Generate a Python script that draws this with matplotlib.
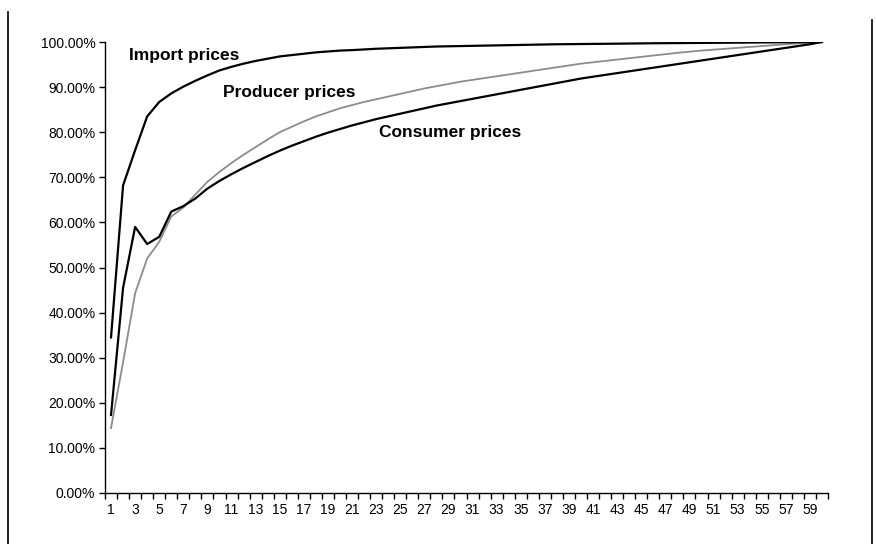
import numpy as np
import matplotlib
matplotlib.use("Agg")
import matplotlib.pyplot as plt
from matplotlib.lines import Line2D
from matplotlib.ticker import FixedLocator, FuncFormatter

plt.rcParams['font.family'] = ['Liberation Sans', 'DejaVu Sans']

# data (share of long-run pass-through, %)
periods = list(range(1, 61))

import_prices = [34.5, 68.2, 76.0, 83.5, 86.7, 88.6, 90.1, 91.4, 92.6, 93.7,
                 94.5, 95.2, 95.8, 96.3, 96.8, 97.1, 97.4, 97.7, 97.9, 98.1,
                 98.2, 98.35, 98.5, 98.6, 98.7, 98.8, 98.9, 99.0, 99.05, 99.1,
                 99.15, 99.2, 99.25, 99.3, 99.35, 99.4, 99.45, 99.5, 99.52, 99.55,
                 99.58, 99.6, 99.63, 99.66, 99.69, 99.72, 99.74, 99.76, 99.78, 99.8,
                 99.82, 99.84, 99.86, 99.88, 99.9, 99.92, 99.94, 99.96, 99.98, 100.0]

producer_prices = [14.4, 29.0, 44.3, 52.0, 55.7, 61.3, 63.3, 66.2, 69.0, 71.2,
                   73.2, 75.0, 76.7, 78.4, 80.0, 81.2, 82.4, 83.5, 84.4, 85.3,
                   86.0, 86.7, 87.3, 87.9, 88.5, 89.1, 89.7, 90.2, 90.7, 91.2,
                   91.6, 92.0, 92.4, 92.8, 93.2, 93.6, 94.0, 94.4, 94.8, 95.2,
                   95.5, 95.8, 96.1, 96.4, 96.7, 97.0, 97.3, 97.6, 97.85, 98.1,
                   98.3, 98.5, 98.7, 98.9, 99.1, 99.3, 99.5, 99.7, 99.85, 100.0]

consumer_prices = [17.3, 45.5, 59.0, 55.2, 56.8, 62.4, 63.6, 65.3, 67.5, 69.2,
                   70.7, 72.1, 73.4, 74.7, 75.9, 77.0, 78.0, 79.0, 79.9, 80.7,
                   81.5, 82.2, 82.9, 83.5, 84.1, 84.7, 85.3, 85.9, 86.4, 86.9,
                   87.4, 87.9, 88.4, 88.9, 89.4, 89.9, 90.4, 90.9, 91.4, 91.9,
                   92.3, 92.7, 93.1, 93.5, 93.9, 94.3, 94.7, 95.1, 95.5, 95.9,
                   96.3, 96.7, 97.1, 97.5, 97.9, 98.3, 98.7, 99.1, 99.5, 100.0]

y_ticks = [0, 10, 20, 30, 40, 50, 60, 70, 80, 90, 100]
x_labels = list(range(1, 60, 2))

fig = plt.figure(figsize=(8.76, 5.44), dpi=100)
ax = fig.add_axes([105 / 876, 1 - 493 / 544, 723 / 876, 451 / 544])

ax.plot(periods, producer_prices, color='#8c8c8c', lw=1.3)
ax.plot(periods, consumer_prices, color='black', lw=1.6)
ax.plot(periods, import_prices, color='black', lw=1.6)

# configure axes
ax.set_xlim(0.5, 60.5)
ax.set_ylim(0, 100)
for s in ['top', 'right']:
    ax.spines[s].set_visible(False)
for s in ['left', 'bottom']:
    ax.spines[s].set_linewidth(1.0)
    ax.spines[s].set_color('black')

ax.set_yticks(y_ticks)
ax.yaxis.set_major_formatter(FuncFormatter(lambda v, p: f"{v:.2f}%"))
ax.tick_params(axis='y', direction='out', length=4, width=1, labelsize=10, pad=3)

# category axis: ticks between categories, labels on every other category
ax.xaxis.set_major_locator(FixedLocator(np.arange(0.5, 61, 1)))
ax.xaxis.set_major_formatter(FuncFormatter(lambda v, p: ""))
ax.xaxis.set_minor_locator(FixedLocator(x_labels))
ax.xaxis.set_minor_formatter(FuncFormatter(lambda v, p: f"{int(round(v))}"))
ax.tick_params(axis='x', which='major', direction='out', length=4, width=1)
ax.tick_params(axis='x', which='minor', length=0, labelsize=10, pad=7)

ax.text(2.49, 97.1, "Import prices", fontsize=12.5, fontweight='bold', ha='left', va='center')
ax.text(10.3, 88.7, "Producer prices", fontsize=12.5, fontweight='bold', ha='left', va='center')
ax.text(23.2, 80.0, "Consumer prices", fontsize=12.5, fontweight='bold', ha='left', va='center')

# page frame lines
fig.add_artist(Line2D([7.5 / 876, 7.5 / 876], [0, 1 - 12 / 544], color='black', lw=1.2))
fig.add_artist(Line2D([872 / 876, 872 / 876], [0, 1 - 20 / 544], color='black', lw=1.2))

fig.savefig("out.png", dpi=100)
